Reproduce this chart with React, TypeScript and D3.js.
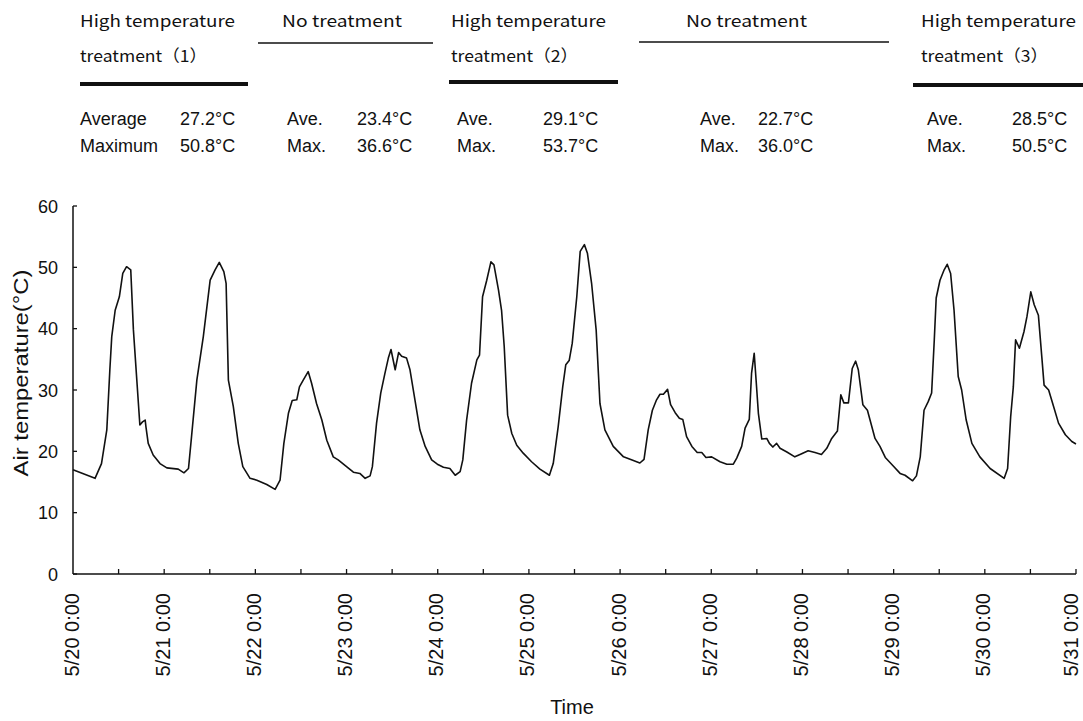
import React from "react";
import * as d3 from "d3";

// hours since 5/20 0:00
const hours = [
  0, 5.8, 7.5, 8.9, 9.7, 10.2, 11.1, 12.2, 13.1, 14.1, 15.2, 15.9, 16.8, 17.6, 18.3, 19.0, 19.2, 19.8,
  21.1, 22.9, 24.7, 27.7, 29.2, 30.4, 31.2, 32.6, 34.3, 36.1, 37.4, 38.5, 39.7, 40.3, 40.9, 42.2,
  43.5, 44.7, 46.6, 48.4, 51.0, 53.2, 54.5, 55.5, 56.7, 57.7, 58.9, 59.6, 60.6, 61.9, 62.8, 64.1,
  65.5, 66.8, 68.5, 69.8, 72.0, 73.8, 75.5, 76.9, 78.2, 78.8, 79.9, 81.0, 82.1, 83.0, 83.7, 84.8,
  85.7, 86.5, 87.8, 88.7, 90.0, 91.3, 92.7, 94.4, 95.9, 97.5, 99.2, 100.6, 101.9, 102.6, 103.6,
  104.9, 106.3, 107.0, 107.8, 108.9, 110.0, 110.8, 112.0, 112.8, 113.5, 114.4, 115.5, 116.8,
  118.5, 120.7, 122.9, 125.4, 126.4, 127.7, 128.9, 129.7, 130.6, 131.4, 132.6, 133.5, 134.6,
  135.4, 136.5, 137.7, 138.7, 140.0, 142.2, 144.9, 147.5, 149.2, 150.3, 151.4, 152.5, 153.6,
  154.5, 155.4, 156.5, 157.3, 158.5, 159.6, 160.5, 161.5, 162.9, 164.3, 165.5, 166.6, 168.1,
  170.3, 172.1, 173.8, 174.7, 176.0, 176.9, 178.0, 178.6, 179.3, 179.8, 180.4, 181.3, 182.6,
  183.3, 184.2, 185.2, 186.1, 187.9, 190.0, 191.8, 193.5, 195.3, 197.0, 198.4, 199.7, 201.2,
  202.1, 202.9, 204.1, 205.1, 206.0, 206.7, 207.9, 209.1, 211.1, 212.4, 213.8, 215.9, 217.7,
  219.0, 221.0, 222.0, 223.0, 224.0, 225.1, 226.0, 226.7, 227.2, 228.2, 229.3, 230.1, 231.0,
  231.9, 233.0, 233.9, 235.1, 236.6, 238.7, 241.4, 245.1, 246.0, 246.8, 247.5, 248.1, 249.1,
  250.3, 251.1, 252.1, 253.0, 254.1, 255.0, 255.6, 256.8, 258.1, 259.4, 261.2, 262.9, 264.0,
];

// air temperature (°C)
const temps = [
  17.0, 15.6, 18.0, 23.5, 33.3, 38.7, 43.0, 45.2, 49.0, 50.1, 49.6, 39.8, 31.6, 24.3, 24.8, 25.1, 24.0, 21.3,
  19.4, 18.0, 17.3, 17.1, 16.5, 17.2, 22.4, 31.6, 38.7, 47.9, 49.6, 50.8, 49.3, 47.4, 31.6, 27.3,
  21.3, 17.5, 15.6, 15.3, 14.6, 13.8, 15.3, 21.3, 26.2, 28.3, 28.4, 30.5, 31.6, 33.0, 31.1, 27.8,
  25.1, 21.8, 19.1, 18.6, 17.5, 16.6, 16.4, 15.6, 16.0, 17.5, 24.6, 29.5, 32.7, 35.2, 36.6, 33.3,
  36.1, 35.5, 35.2, 33.3, 28.4, 23.5, 20.8, 18.6, 17.9, 17.4, 17.2, 16.1, 16.7, 18.6, 25.1,
  31.1, 34.9, 35.7, 45.2, 47.9, 50.9, 50.4, 46.3, 43.0, 37.1, 25.9, 22.9, 21.0,
  19.7, 18.3, 17.1, 16.1, 18.0, 24.0, 30.5, 34.1, 34.8, 37.6, 45.2, 52.6, 53.7,
  52.3, 47.4, 39.8, 27.8, 23.5, 20.8, 19.1, 18.5, 18.1, 18.7, 23.5, 26.7, 28.4,
  29.3, 29.3, 30.1, 27.6, 26.3, 25.4, 25.2, 22.4, 20.8, 19.8, 19.8, 19.0, 19.1,
  18.3, 17.9, 17.9, 18.9, 20.8, 23.8, 25.2, 32.7, 36.0, 31.6, 26.2, 22.0, 22.1,
  21.3, 20.7, 21.3, 20.5, 19.9, 19.1, 19.6, 20.1, 19.8, 19.5, 20.5, 22.1, 23.3,
  29.2, 27.9, 27.9, 33.5, 34.7, 33.3, 27.6, 26.7, 22.1, 20.8, 19.0, 17.6, 16.4,
  16.1, 15.2, 16.0, 19.1, 26.7, 28.1, 29.5, 38.2, 45.0, 47.9, 49.6, 50.5, 49.0,
  43.0, 32.2, 30.0, 25.1, 21.3, 19.1, 17.2, 15.6, 17.2, 25.6, 30.5, 38.2, 36.8,
  39.5, 42.0, 46.0, 43.9, 42.2, 35.4, 30.8, 30.0, 27.3, 24.6, 22.7, 21.6, 21.2,
];

const dayLabels = [
  "5/20 0:00", "5/21 0:00", "5/22 0:00", "5/23 0:00", "5/24 0:00", "5/25 0:00",
  "5/26 0:00", "5/27 0:00", "5/28 0:00", "5/29 0:00", "5/30 0:00", "5/31 0:00",
];
const yTicks = [0, 10, 20, 30, 40, 50, 60];

const periodTitles = [
  ["High temperature", "treatment（1）"],
  ["No treatment"],
  ["High temperature", "treatment（2）"],
  ["No treatment"],
  ["High temperature", "treatment（3）"],
];
const aveLabels = ["Average", "Ave.", "Ave.", "Ave.", "Ave."];
const maxLabels = ["Maximum", "Max.", "Max.", "Max.", "Max."];
const aveValues = ["27.2°C", "23.4°C", "29.1°C", "22.7°C", "28.5°C"];
const maxValues = ["50.8°C", "36.6°C", "53.7°C", "36.0°C", "50.5°C"];

// header layout (pixels)
const headLayout = [
  { tx: 80, bar: [80, 248], barY: 84, thick: true, lx: 80, vx: 180, w: [155, 127] },
  { tx: 282, bar: [258, 433], barY: 43, thick: false, lx: 287, vx: 357, w: [120] },
  { tx: 451, bar: [449, 618], barY: 82, thick: true, lx: 457, vx: 543, w: [155, 127] },
  { tx: 686, bar: [639, 889], barY: 42, thick: false, lx: 700, vx: 758, w: [121] },
  { tx: 921, bar: [913, 1083], barY: 85, thick: true, lx: 927, vx: 1012, w: [155, 127] },
];

const W = 1083;
const H = 721;

export default function App() {
  const x = d3.scaleLinear().domain([0, 264]).range([73, 1076]);
  const y = d3.scaleLinear().domain([0, 60]).range([574, 206]);
  const pts = hours.map((h, i) => [h, temps[i]] as [number, number]);
  const line = d3
    .line<[number, number]>()
    .x((d) => x(d[0]))
    .y((d) => y(d[1]));
  const halfDays = d3.range(1, 23).map((i) => i * 12);

  const headFont = "'Noto Sans CJK JP', 'DejaVu Sans', sans-serif";
  const sans = "'Liberation Sans', Arial, sans-serif";

  return (
    <svg
      width={W}
      height={H}
      style={{ position: "absolute", left: 0, top: 0, background: "#fff" }}
    >
      <rect width={W} height={H} fill="#fff" />

      {/* header */}
      {headLayout.map((p, i) => (
        <g key={i} fill="#111">
          {periodTitles[i].map((t, j) => (
            <text
              key={j}
              x={p.tx}
              y={27 + j * 35}
              fontFamily={headFont}
              fontSize={16.5}
              textLength={p.w[j]}
              lengthAdjust="spacingAndGlyphs"
            >
              {t}
            </text>
          ))}
          <line
            x1={p.bar[0]}
            x2={p.bar[1]}
            y1={p.barY}
            y2={p.barY}
            stroke="#111"
            strokeWidth={p.thick ? 4 : 1.5}
          />
          <text x={p.lx} y={125} fontFamily={sans} fontSize={18}>
            {aveLabels[i]}
          </text>
          <text x={p.vx} y={125} fontFamily={sans} fontSize={18}>
            {aveValues[i]}
          </text>
          <text x={p.lx} y={152} fontFamily={sans} fontSize={18}>
            {maxLabels[i]}
          </text>
          <text x={p.vx} y={152} fontFamily={sans} fontSize={18}>
            {maxValues[i]}
          </text>
        </g>
      ))}

      {/* y axis */}
      <line x1={x(0)} x2={x(0)} y1={y(60)} y2={y(0)} stroke="#111" strokeWidth={1.5} />
      {yTicks.map((t) => (
        <g key={t}>
          <line x1={x(0)} x2={x(0) + 4} y1={y(t)} y2={y(t)} stroke="#111" strokeWidth={1.3} />
          <text
            x={58}
            y={y(t) + 6.5}
            textAnchor="end"
            fontFamily={sans}
            fontSize={18}
            fill="#111"
          >
            {t}
          </text>
        </g>
      ))}
      <text
        transform={`translate(28,373) rotate(-90)`}
        textAnchor="middle"
        fontFamily={sans}
        fontSize={21}
        textLength={207}
        lengthAdjust="spacingAndGlyphs"
        fill="#111"
      >
        Air temperature(°C)
      </text>

      {/* x axis */}
      <line x1={x(0)} x2={x(264)} y1={y(0)} y2={y(0)} stroke="#111" strokeWidth={1.5} />
      {halfDays.map((h) => (
        <line key={h} x1={x(h)} x2={x(h)} y1={y(0)} y2={y(0) - 5} stroke="#111" strokeWidth={1.3} />
      ))}
      {dayLabels.map((lab, i) => (
        <text
          key={lab}
          transform={`translate(${Math.min(x(i * 24) + 5.5, W - 5)},593) rotate(-90)`}
          textAnchor="end"
          fontFamily={sans}
          fontSize={20}
          fill="#111"
        >
          {lab}
        </text>
      ))}
      <text
        x={572}
        y={714}
        textAnchor="middle"
        fontFamily="'Liberation Sans Narrow', 'Liberation Sans', sans-serif"
        fontSize={20}
        fill="#111"
      >
        Time
      </text>

      {/* temperature trace */}
      <path d={line(pts) ?? ""} fill="none" stroke="#111" strokeWidth={1.6} strokeLinejoin="round" />
    </svg>
  );
}
